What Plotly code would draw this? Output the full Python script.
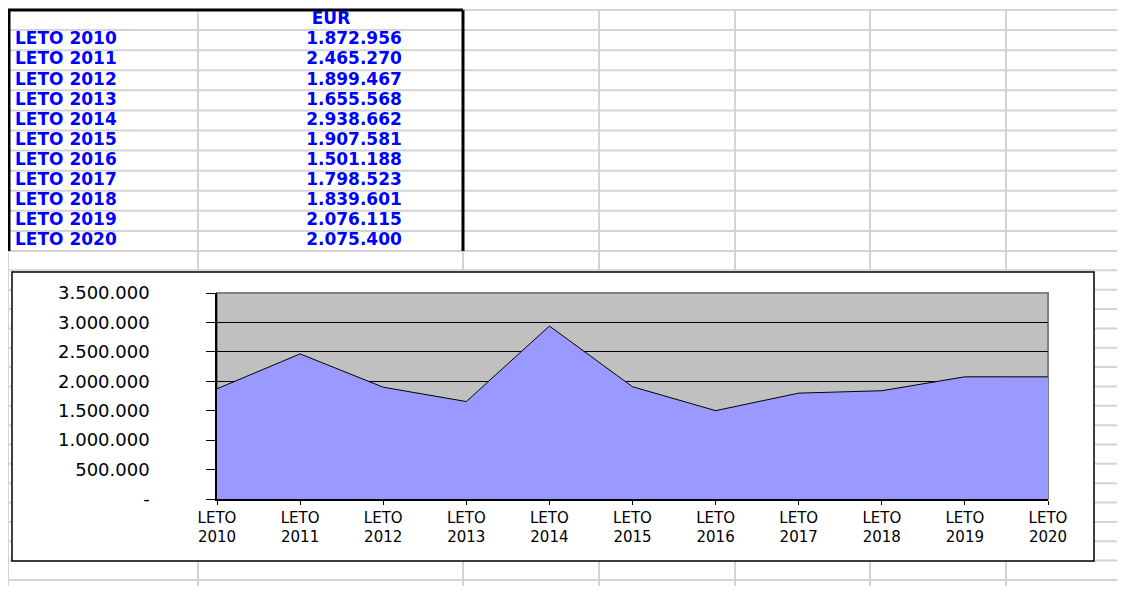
import plotly.graph_objects as go

# ---- data read from the sheet ----
YEARS = [2010, 2011, 2012, 2013, 2014, 2015, 2016, 2017, 2018, 2019, 2020]
EUR = [1872956, 2465270, 1899467, 1655568, 2938662, 1907581,
       1501188, 1798523, 1839601, 2076115, 2075400]
HEADER = "EUR"
Y_TICKS = [0, 500000, 1000000, 1500000, 2000000, 2500000, 3000000, 3500000]
Y_TICK_LABELS = ["-", "500.000", "1.000.000", "1.500.000", "2.000.000",
                 "2.500.000", "3.000.000", "3.500.000"]

ROW_LABELS = ["LETO %d" % y for y in YEARS]
X_LABELS = ["LETO<br>%d" % y for y in YEARS]
VALUE_TEXT = ["{:,}".format(v).replace(",", ".") for v in EUR]

# ---- page geometry, in screen pixels (the page body has an 8px margin) ----
OFF = 8
W, H = 1125 - 2 * OFF, 594 - 2 * OFF
COL_EDGES = [8, 198, 463, 599, 735, 870, 1006]
TABLE_TOP, TABLE_BOTTOM = 10, 251
LOWER_ROW = 19.35
PLOT_L, PLOT_R, PLOT_T, PLOT_B = 217, 1048, 293, 499
BOX_L, BOX_R, BOX_T, BOX_B = 12, 1094, 272, 561
LABEL_X, VALUE_X, HEADER_X = 15, 354, 331
GRID = "#d4d4d4"
BLUE = "#0000ff"


def fx(p):
    return (p - OFF) / W


def fy(p):
    return 1 - (p - OFF) / H


n_rows = len(YEARS) + 1
pitch = (TABLE_BOTTOM - TABLE_TOP) / n_rows
row_lines = [TABLE_TOP + k * pitch for k in range(n_rows + 1)]
y = TABLE_BOTTOM + LOWER_ROW
while y < H + OFF:
    row_lines.append(y)
    y += LOWER_ROW

shapes = []
# spreadsheet grid
for ry in row_lines:
    shapes.append(dict(type="line", xref="paper", yref="paper", layer="below",
                       x0=fx(COL_EDGES[0]), x1=1, y0=fy(ry), y1=fy(ry),
                       line=dict(color=GRID, width=2)))
for cx in COL_EDGES:
    shapes.append(dict(type="line", xref="paper", yref="paper", layer="below",
                       x0=fx(cx), x1=fx(cx), y0=fy(TABLE_TOP), y1=0,
                       line=dict(color=GRID, width=2)))
# table frame
for x0, y0, x1, y1 in [(COL_EDGES[0], TABLE_TOP, COL_EDGES[2], TABLE_TOP),
                       (COL_EDGES[0] + 1, TABLE_TOP, COL_EDGES[0] + 1, TABLE_BOTTOM),
                       (COL_EDGES[2], TABLE_TOP, COL_EDGES[2], TABLE_BOTTOM)]:
    shapes.append(dict(type="line", xref="paper", yref="paper", layer="below",
                       x0=fx(x0), x1=fx(x1), y0=fy(y0), y1=fy(y1),
                       line=dict(color="black", width=3)))
# chart box and plot area background
shapes.append(dict(type="rect", xref="paper", yref="paper", layer="below",
                   x0=fx(BOX_L), x1=fx(BOX_R), y0=fy(BOX_B), y1=fy(BOX_T),
                   fillcolor="white", line=dict(color="black", width=1.5)))
shapes.append(dict(type="rect", xref="paper", yref="paper", layer="below",
                   x0=fx(PLOT_L), x1=fx(PLOT_R), y0=fy(PLOT_B), y1=fy(PLOT_T),
                   fillcolor="#c0c0c0", line=dict(color="#808080", width=2)))

fig = go.Figure()

table_rows = list(range(1, n_rows))
table_font = dict(family="DejaVu Sans", size=17, color=BLUE, weight="bold")
fig.add_trace(go.Scatter(x=[HEADER_X], y=[0], text=[HEADER], mode="text",
                         textposition="middle center", textfont=table_font,
                         xaxis="x", yaxis="y", hoverinfo="skip"))
fig.add_trace(go.Scatter(x=[LABEL_X] * len(ROW_LABELS), y=table_rows, text=ROW_LABELS,
                         mode="text", textposition="middle right", textfont=table_font,
                         xaxis="x", yaxis="y", hoverinfo="skip"))
fig.add_trace(go.Scatter(x=[VALUE_X] * len(VALUE_TEXT), y=table_rows, text=VALUE_TEXT,
                         mode="text", textposition="middle center", textfont=table_font,
                         xaxis="x", yaxis="y", hoverinfo="skip"))

# area chart
fig.add_trace(go.Scatter(x=X_LABELS, y=EUR, mode="lines", fill="tozeroy",
                         fillcolor="#9999ff", line=dict(color="black", width=1),
                         xaxis="x2", yaxis="y2", hoverinfo="skip"))

fig.update_layout(
    width=W, height=H,
    margin=dict(l=0, r=0, t=0, b=0, autoexpand=False),
    paper_bgcolor="white", plot_bgcolor="white",
    showlegend=False, hovermode=False,
    shapes=shapes,
    xaxis=dict(domain=[0, 1], range=[OFF, OFF + W], visible=False,
               fixedrange=True, automargin=False),
    yaxis=dict(domain=[fy(TABLE_BOTTOM), fy(TABLE_TOP)], range=[n_rows - 0.5, -0.5],
               visible=False, fixedrange=True, automargin=False),
    xaxis2=dict(domain=[fx(PLOT_L), fx(PLOT_R)], anchor="y2", type="category",
                range=[0, len(YEARS) - 1], showgrid=False, automargin=False,
                showline=True, linecolor="black", linewidth=1.5,
                ticks="outside", ticklen=4, tickcolor="black", tickwidth=1,
                tickfont=dict(family="DejaVu Sans", size=15, color="black")),
    yaxis2=dict(domain=[fy(PLOT_B), fy(PLOT_T)], anchor="x2", range=[0, 3500000],
                tickvals=Y_TICKS, ticktext=Y_TICK_LABELS, automargin=False,
                showgrid=True, gridcolor="black", gridwidth=1, zeroline=False,
                showline=True, linecolor="black", linewidth=1.5,
                ticks="outside", ticklen=9, tickcolor="black", tickwidth=1,
                ticklabelstandoff=53,
                tickfont=dict(family="DejaVu Sans", size=18, color="black")),
)

fig.write_html("out.html")
